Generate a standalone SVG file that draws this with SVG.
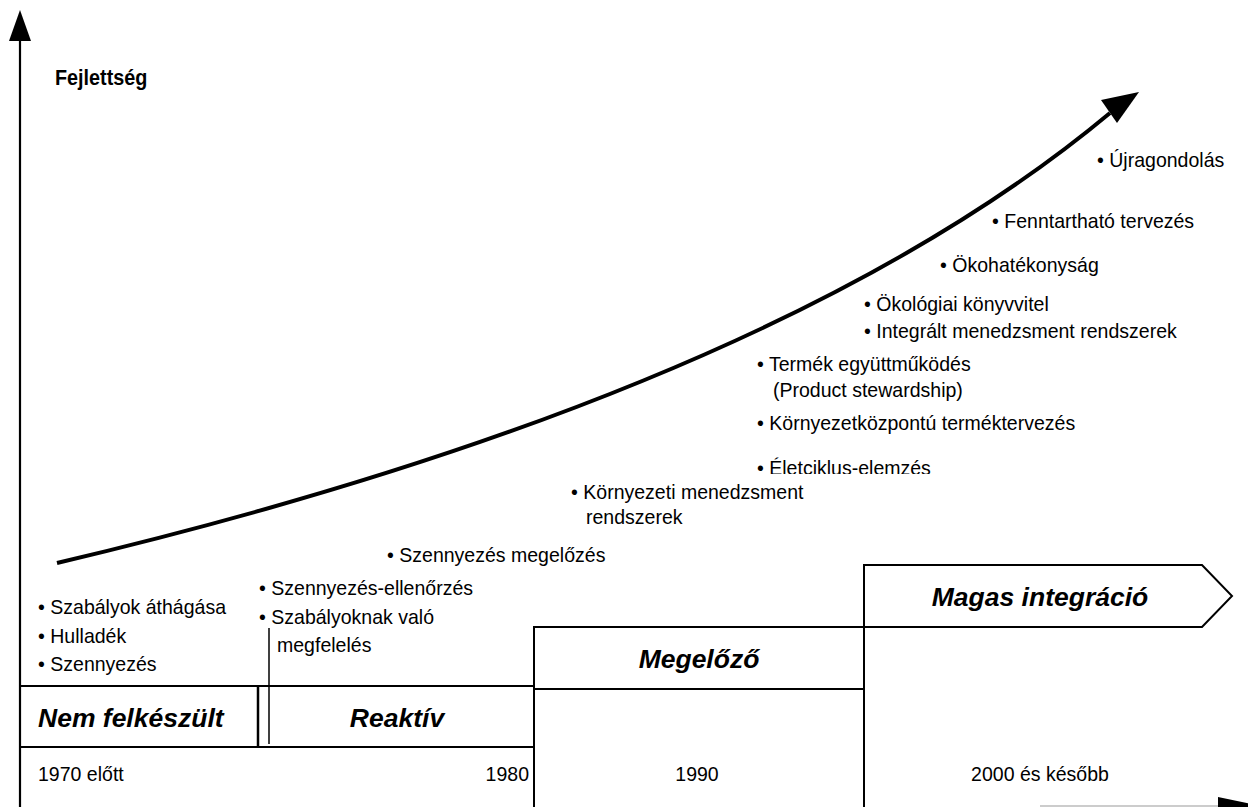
<svg xmlns="http://www.w3.org/2000/svg" width="1248" height="807" viewBox="0 0 1248 807">
<style>
.t{font-family:"Liberation Sans",Arial,sans-serif;font-size:21px;fill:#000}
.b{font-family:"Liberation Sans",Arial,sans-serif;font-size:26.5px;font-weight:bold;font-style:italic;fill:#000}
.ln{stroke:#000;stroke-width:2;fill:none}
</style>
<defs>
<clipPath id="clipE"><rect x="-900" y="0" width="2000" height="474"/></clipPath>
</defs>
<rect width="1248" height="807" fill="#fff"/>
<g id="connectors">
<line x1="20" y1="38" x2="20" y2="807" stroke="#000" stroke-width="2.2"/>
<polygon points="20,10 9,41 31,41" fill="#000"/>
<path d="M57,563 C450,470 850,330 1110,113" stroke="#000" stroke-width="4" fill="none"/>
<polygon points="1139,92 1101,100 1117,123" fill="#000"/>
<line x1="1040" y1="806" x2="1220" y2="806" stroke="#999" stroke-width="1.2"/>
<polygon points="1218,797 1262,806 1218,815" fill="#000"/>
</g>
<g id="axis-label"><text transform="translate(55,0) scale(0.9,1)" x="0" y="85" class="t" style="font-weight:bold;font-size:22px">Fejlettség</text></g>
<g id="node-nem">
<line x1="20" y1="686" x2="535" y2="686" class="ln"/>
<line x1="20" y1="747" x2="535" y2="747" class="ln"/>
<line x1="258" y1="686" x2="258" y2="747" stroke="#000" stroke-width="2.5"/>
<text x="38" y="727" class="b">Nem felkészült</text>
<text transform="translate(38,0) scale(0.93,1)" x="0" y="614" class="t">• Szabályok áthágása</text>
<text transform="translate(38,0) scale(0.93,1)" x="0" y="643" class="t">• Hulladék</text>
<text transform="translate(38,0) scale(0.93,1)" x="0" y="671" class="t">• Szennyezés</text>
<text transform="translate(38,0) scale(0.93,1)" x="0" y="781" class="t">1970 előtt</text>
</g>
<g id="node-reaktiv">
<line x1="269" y1="628" x2="269" y2="744" stroke="#000" stroke-width="1.5"/>
<text x="397" y="727" class="b" text-anchor="middle">Reaktív</text>
<text transform="translate(259,0) scale(0.93,1)" x="0" y="595" class="t">• Szennyezés-ellenőrzés</text>
<text transform="translate(259,0) scale(0.93,1)" x="0" y="624" class="t">• Szabályoknak való</text>
<text transform="translate(277,0) scale(0.93,1)" x="0" y="652" class="t">megfelelés</text>
<text transform="translate(529,0) scale(0.93,1)" x="0" y="781" class="t" text-anchor="end">1980</text>
</g>
<g id="node-megelozo">
<rect x="534" y="627" width="330" height="62" class="ln"/>
<line x1="534" y1="689" x2="534" y2="807" class="ln"/>
<text x="699" y="668" class="b" text-anchor="middle">Megelőző</text>
<text transform="translate(387,0) scale(0.93,1)" x="0" y="562" class="t">• Szennyezés megelőzés</text>
<text transform="translate(571,0) scale(0.93,1)" x="0" y="499" class="t">• Környezeti menedzsment</text>
<text transform="translate(586,0) scale(0.93,1)" x="0" y="524" class="t">rendszerek</text>
<text transform="translate(697,0) scale(0.93,1)" x="0" y="781" class="t" text-anchor="middle">1990</text>
</g>
<g id="node-magas">
<polygon points="864,565 1202,565 1232,596 1202,627 864,627" class="ln"/>
<line x1="864" y1="627" x2="864" y2="807" class="ln"/>
<text x="1040" y="606" class="b" text-anchor="middle">Magas integráció</text>
<text transform="translate(1040,0) scale(0.93,1)" x="0" y="781" class="t" text-anchor="middle">2000 és később</text>
<text transform="translate(757,0) scale(0.93,1)" x="0" y="475" class="t" clip-path="url(#clipE)">• Életciklus-elemzés</text>
<text transform="translate(757,0) scale(0.93,1)" x="0" y="430" class="t">• Környezetközpontú terméktervezés</text>
<text transform="translate(757,0) scale(0.93,1)" x="0" y="371" class="t">• Termék együttműködés</text>
<text transform="translate(773,0) scale(0.93,1)" x="0" y="397" class="t">(Product stewardship)</text>
<text transform="translate(864,0) scale(0.93,1)" x="0" y="338" class="t">• Integrált menedzsment rendszerek</text>
<text transform="translate(864,0) scale(0.93,1)" x="0" y="311" class="t">• Ökológiai könyvvitel</text>
<text transform="translate(940,0) scale(0.93,1)" x="0" y="272" class="t">• Ökohatékonyság</text>
<text transform="translate(992,0) scale(0.93,1)" x="0" y="228" class="t">• Fenntartható tervezés</text>
<text transform="translate(1097,0) scale(0.93,1)" x="0" y="167" class="t">• Újragondolás</text>
</g>
</svg>
